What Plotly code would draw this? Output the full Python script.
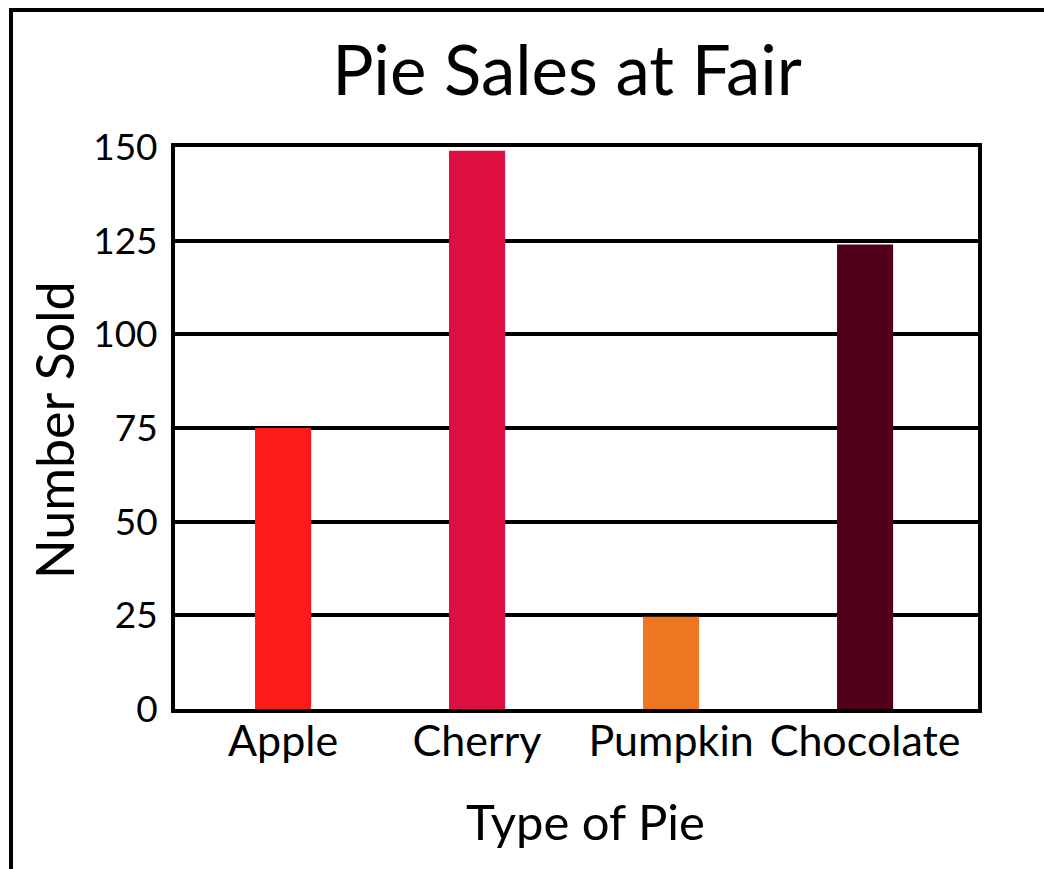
import plotly.graph_objects as go

categories = ["Apple", "Cherry", "Pumpkin", "Chocolate"]
values = [75, 149, 24.6, 124]
colors = ["#FF1A1A", "#DC0F40", "#EE7722", "#52001A"]
y_ticks = [0, 25, 50, 75, 100, 125, 150]

FONT = "Lato"
W, H = 1044, 869
L, R, T, B = 175, 66, 147, 160
pw, ph = W - L - R, H - T - B

fig = go.Figure(go.Bar(
    x=categories, y=values, marker=dict(color=colors, line=dict(width=0)),
    width=0.289, showlegend=False,
))

fig.update_layout(
    width=W, height=H,
    margin=dict(l=L, r=R, t=T, b=B, pad=0),
    paper_bgcolor="white", plot_bgcolor="white",
    font=dict(family=FONT, color="black"),
    title=dict(text="Pie Sales at Fair", font=dict(size=69, family=FONT, color="black"),
               x=(567 - L) / pw, xref="paper", xanchor="center",
               y=1 - 71 / H, yref="container", yanchor="middle"),
    xaxis=dict(
        type="category", range=[-0.557, 3.582],
        showline=True, linecolor="black", linewidth=4, mirror=True,
        showgrid=False, ticks="", tickfont=dict(size=43, family=FONT),
        ticklabelstandoff=-9,
    ),
    yaxis=dict(
        range=[0, 150], tickvals=y_ticks,
        showline=True, linecolor="black", linewidth=4, mirror=True,
        showgrid=True, gridcolor="black", gridwidth=4,
        zeroline=False, ticks="", tickfont=dict(size=37, family=FONT),
        ticklabelstandoff=6,
    ),
    annotations=[
        dict(text="Type of Pie", xref="paper", yref="paper",
             x=(585 - L) / pw, y=(H - B - 821) / ph, xanchor="center", yanchor="middle",
             showarrow=False, font=dict(size=49, family=FONT, color="black")),
        dict(text="Number Sold", xref="paper", yref="paper", textangle=-90,
             x=(54 - L) / pw, y=(H - B - 430) / ph, xanchor="center", yanchor="middle",
             showarrow=False, font=dict(size=52, family=FONT, color="black")),
    ],
    shapes=[
        dict(type="rect", xref="paper", yref="paper",
             x0=(11 - L) / pw, x1=(W + 20 - L) / pw,
             y0=(H - T - (H + 20)) / ph, y1=(H - B - 10) / ph,
             line=dict(color="black", width=4), fillcolor="rgba(0,0,0,0)", layer="above"),
    ],
)

fig.write_html("out.html", config={"displayModeBar": False},
               post_script="document.body.style.margin='0';document.body.style.overflow='hidden';")
